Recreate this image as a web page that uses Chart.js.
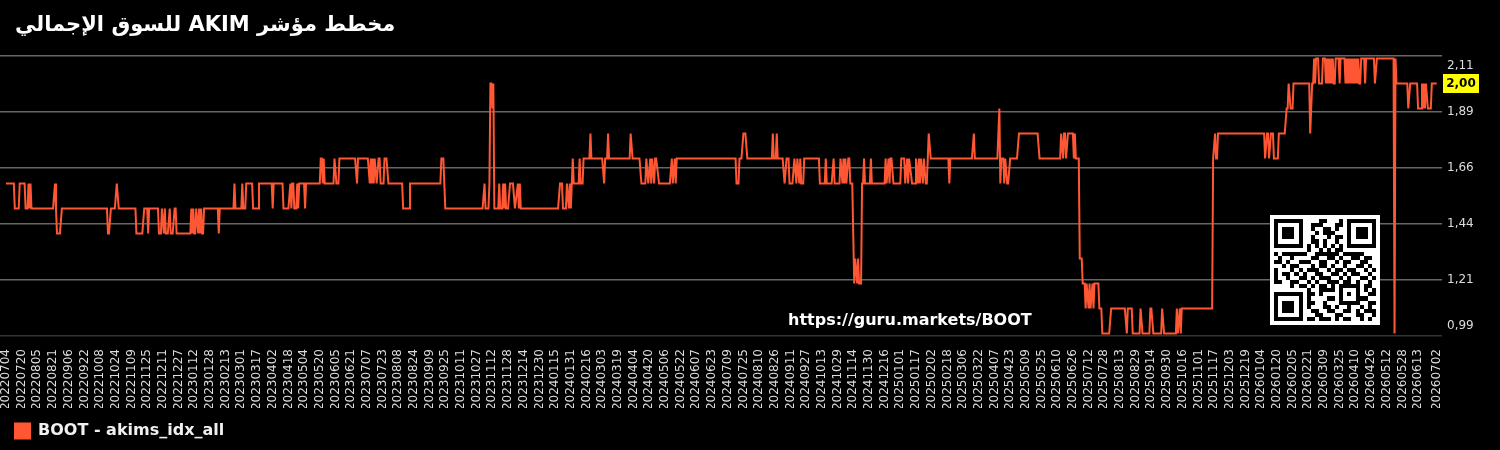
<!DOCTYPE html>
<html>
<head>
<meta charset="utf-8">
<title>AKIM</title>
<script src="https://cdn.jsdelivr.net/npm/chart.js@4"></script>
<style>
  html, body { margin: 0; padding: 0; background: #000; }
  canvas { display: block; }
</style>
</head>
<body>
<canvas id="akimChart" width="1500" height="450"></canvas>
<script>
const chartTitle = 'مخطط مؤشر AKIM للسوق الإجمالي';
const seriesName = 'BOOT - akims_idx_all';
const siteUrl = 'https://guru.markets/BOOT';

const dateLabels = [
  '20220704', '20220720', '20220805', '20220821', '20220906', '20220922', '20221008', '20221024',
  '20221109', '20221125', '20221211', '20221227', '20230112', '20230128', '20230213', '20230301',
  '20230317', '20230402', '20230418', '20230504', '20230520', '20230605', '20230621', '20230707',
  '20230723', '20230808', '20230824', '20230909', '20230925', '20231011', '20231027', '20231112',
  '20231128', '20231214', '20231230', '20240115', '20240131', '20240216', '20240303', '20240319',
  '20240404', '20240420', '20240506', '20240522', '20240607', '20240623', '20240709', '20240725',
  '20240810', '20240826', '20240911', '20240927', '20241013', '20241029', '20241114', '20241130',
  '20241216', '20250101', '20250117', '20250202', '20250218', '20250306', '20250322', '20250407',
  '20250423', '20250509', '20250525', '20250610', '20250626', '20250712', '20250728', '20250813',
  '20250829', '20250914', '20250930', '20251016', '20251101', '20251117', '20251203', '20251219',
  '20260104', '20260120', '20260205', '20260221', '20260309', '20260325', '20260410', '20260426',
  '20260512', '20260528', '20260613', '20260702'
];

const priceTicks = [2.11, 1.886, 1.662, 1.438, 1.214, 0.99];

// [days since first date, index value]
const points2022 = [
  [0, 1.6], [8, 1.6], [9, 1.5], [13, 1.5], [14, 1.6], [19, 1.6], [20, 1.5], [22, 1.5], [23, 1.6], [24, 1.5],
  [25, 1.6], [26, 1.5], [48, 1.5], [50, 1.6], [51, 1.5], [52, 1.4], [55, 1.4], [57, 1.5], [103, 1.5], [104, 1.4],
  [105, 1.4], [107, 1.5], [111, 1.5], [113, 1.6], [115, 1.5], [132, 1.5], [133, 1.4], [139, 1.4], [141, 1.5], [144, 1.5],
  [145, 1.4], [146, 1.5], [155, 1.5], [156, 1.4], [158, 1.4], [159, 1.5], [161, 1.4], [162, 1.5], [163, 1.4], [165, 1.4],
  [167, 1.5], [168, 1.4], [170, 1.4], [172, 1.5], [173, 1.5], [174, 1.4]
];

const points2023 = [
  [188, 1.4], [189, 1.5], [190, 1.4], [191, 1.5], [192, 1.4], [193, 1.4], [194, 1.5], [196, 1.4], [197, 1.5], [198, 1.4],
  [199, 1.5], [200, 1.4], [201, 1.4], [202, 1.5], [216, 1.5], [217, 1.4], [218, 1.5], [232, 1.5], [233, 1.6], [234, 1.5],
  [240, 1.5], [241, 1.6], [242, 1.5], [244, 1.5], [245, 1.6], [251, 1.6], [252, 1.5], [257, 1.5], [258, 1.6], [271, 1.6],
  [272, 1.5], [273, 1.6], [282, 1.6], [283, 1.5], [288, 1.5], [290, 1.6], [291, 1.5], [292, 1.6], [293, 1.6], [294, 1.5],
  [296, 1.5], [297, 1.6], [298, 1.5], [299, 1.6], [304, 1.6], [305, 1.5], [306, 1.6], [320, 1.6], [321, 1.7], [322, 1.7],
  [323, 1.6], [324, 1.7], [325, 1.6], [334, 1.6], [335, 1.7], [337, 1.6], [339, 1.6], [340, 1.7], [356, 1.7], [358, 1.6],
  [359, 1.7], [369, 1.7], [371, 1.6], [372, 1.7], [373, 1.6], [374, 1.7], [375, 1.6], [376, 1.7], [378, 1.6], [380, 1.7],
  [381, 1.7], [382, 1.6], [385, 1.6], [386, 1.7], [388, 1.7], [390, 1.6], [404, 1.6], [405, 1.5], [411, 1.5], [412, 1.6],
  [443, 1.6], [444, 1.7], [446, 1.7], [448, 1.5], [486, 1.5], [488, 1.6], [489, 1.5], [492, 1.5], [493, 1.6], [494, 2.0],
  [495, 2.0], [496, 1.9], [497, 2.0], [498, 1.5], [502, 1.5], [503, 1.6], [504, 1.5], [506, 1.5], [507, 1.6], [508, 1.5],
  [509, 1.6], [510, 1.5], [512, 1.5], [514, 1.6], [517, 1.6], [519, 1.5], [522, 1.6], [523, 1.5], [524, 1.6], [525, 1.5]
];

const points2024 = [
  [563, 1.5], [565, 1.6], [567, 1.6], [568, 1.5], [571, 1.5], [572, 1.6], [574, 1.5], [575, 1.6], [576, 1.5], [577, 1.6],
  [578, 1.7], [579, 1.6], [584, 1.6], [585, 1.7], [586, 1.6], [588, 1.6], [589, 1.7], [595, 1.7], [596, 1.8], [597, 1.7],
  [608, 1.7], [610, 1.6], [611, 1.7], [613, 1.7], [614, 1.8], [615, 1.7], [636, 1.7], [637, 1.8], [639, 1.7], [646, 1.7],
  [648, 1.6], [652, 1.6], [653, 1.7], [655, 1.6], [657, 1.7], [658, 1.6], [659, 1.7], [661, 1.6], [662, 1.7], [663, 1.7],
  [666, 1.6], [677, 1.6], [679, 1.7], [680, 1.6], [682, 1.7], [683, 1.6], [684, 1.7], [686, 1.7], [744, 1.7], [745, 1.6],
  [747, 1.6], [748, 1.7], [750, 1.7], [752, 1.8], [754, 1.8], [756, 1.7], [781, 1.7], [782, 1.8], [783, 1.7], [785, 1.7],
  [786, 1.8], [787, 1.7], [792, 1.7], [794, 1.6], [796, 1.7], [798, 1.7], [799, 1.6], [802, 1.6], [804, 1.7], [806, 1.6],
  [807, 1.7], [809, 1.6], [810, 1.7], [811, 1.6], [813, 1.6], [814, 1.7], [829, 1.7], [830, 1.6], [835, 1.6], [836, 1.7],
  [837, 1.6], [842, 1.6], [844, 1.7], [845, 1.6], [850, 1.6], [851, 1.7], [853, 1.6], [854, 1.7], [855, 1.6], [856, 1.7],
  [857, 1.6], [859, 1.7], [860, 1.7], [861, 1.6], [863, 1.6], [865, 1.2], [866, 1.3], [868, 1.2], [869, 1.3], [870, 1.2],
  [872, 1.2], [873, 1.6], [874, 1.6], [875, 1.7], [876, 1.6], [881, 1.6], [882, 1.7], [883, 1.6], [896, 1.6], [897, 1.7],
  [898, 1.6], [900, 1.7], [901, 1.6], [902, 1.7], [903, 1.7], [905, 1.6]
];

const points2025 = [
  [912, 1.6], [913, 1.7], [916, 1.7], [917, 1.6], [919, 1.7], [920, 1.6], [921, 1.7], [924, 1.6], [927, 1.6], [928, 1.7],
  [930, 1.6], [931, 1.7], [932, 1.6], [933, 1.7], [935, 1.6], [936, 1.7], [938, 1.6], [939, 1.6], [940, 1.7], [941, 1.8],
  [943, 1.7], [961, 1.7], [962, 1.6], [963, 1.7], [985, 1.7], [987, 1.8], [988, 1.7], [1011, 1.7], [1013, 1.9], [1014, 1.6],
  [1015, 1.7], [1017, 1.7], [1018, 1.6], [1019, 1.7], [1021, 1.6], [1022, 1.6], [1024, 1.7], [1031, 1.7], [1033, 1.8], [1052, 1.8],
  [1054, 1.7], [1075, 1.7], [1076, 1.8], [1078, 1.7], [1079, 1.8], [1080, 1.8], [1081, 1.7], [1083, 1.8], [1088, 1.8], [1089, 1.7],
  [1090, 1.8], [1091, 1.7], [1094, 1.7], [1095, 1.3], [1097, 1.3], [1098, 1.2], [1100, 1.2], [1101, 1.1], [1102, 1.2], [1104, 1.1],
  [1105, 1.2], [1106, 1.1], [1108, 1.2], [1109, 1.1], [1110, 1.2], [1114, 1.2], [1115, 1.1], [1117, 1.1], [1118, 1.0], [1125, 1.0],
  [1127, 1.1], [1141, 1.1], [1143, 1.0], [1144, 1.1], [1148, 1.1], [1149, 1.0], [1156, 1.0], [1157, 1.1], [1159, 1.0], [1166, 1.0],
  [1167, 1.1], [1168, 1.1], [1170, 1.0], [1178, 1.0], [1179, 1.1], [1181, 1.0], [1193, 1.0], [1194, 1.1], [1195, 1.0], [1197, 1.1],
  [1198, 1.0], [1199, 1.1], [1200, 1.1], [1230, 1.1], [1231, 1.7], [1233, 1.8], [1234, 1.7], [1235, 1.7], [1236, 1.8]
];

const points2026 = [
  [1283, 1.8], [1284, 1.7], [1286, 1.8], [1287, 1.8], [1288, 1.7], [1290, 1.8], [1292, 1.8], [1293, 1.7], [1297, 1.7], [1298, 1.8],
  [1304, 1.8], [1306, 1.9], [1307, 1.9], [1308, 2.0], [1310, 1.9], [1312, 1.9], [1313, 2.0], [1329, 2.0], [1330, 1.8], [1332, 2.0],
  [1333, 2.0], [1334, 2.1], [1335, 2.0], [1336, 2.1], [1338, 2.1], [1339, 2.0], [1342, 2.0], [1343, 2.1], [1345, 2.1], [1346, 2.0],
  [1347, 2.1], [1348, 2.0], [1349, 2.1], [1350, 2.0], [1351, 2.1], [1352, 2.0], [1353, 2.1], [1354, 2.0], [1355, 2.0], [1356, 2.1],
  [1359, 2.1], [1360, 2.0], [1361, 2.1], [1365, 2.1], [1366, 2.0], [1367, 2.1], [1368, 2.0], [1369, 2.1], [1370, 2.0], [1371, 2.1],
  [1372, 2.0], [1373, 2.1], [1374, 2.0], [1375, 2.1], [1376, 2.0], [1377, 2.1], [1378, 2.0], [1379, 2.1], [1380, 2.0], [1381, 2.0],
  [1382, 2.1], [1385, 2.1], [1386, 2.0], [1387, 2.1], [1395, 2.1], [1396, 2.0], [1398, 2.1], [1415, 2.1], [1416, 1.0], [1417, 2.1],
  [1418, 2.0], [1429, 2.0], [1430, 1.9], [1432, 2.0], [1439, 2.0], [1440, 1.9], [1443, 1.9], [1444, 2.0], [1445, 1.9], [1446, 2.0],
  [1447, 1.9], [1448, 2.0], [1450, 1.9], [1453, 1.9], [1454, 2.0], [1459, 2.0]
];

// QR code pointing at the site, one string per module row
const qrRows = [
  '1111111000011000101111111', '1000001001110001101000001', '1011101001001101001011101',
  '1011101000101110001011101', '1011101001000101101011101', '1000001001101001001000001',
  '1111111010101010101111111', '0000000010010101100000000', '1011111100111111011111000',
  '0100100001100110100110110', '1101001110011001011001100', '0010110001011010010011010',
  '1000101011100101101100101', '1011010100110011010110010', '1001001101011100101001101',
  '1100110010100111011010010', '0000101101011010111110110', '0000000010011110100010101',
  '1111111011010000101010011', '1000001010000110100011100', '1011101011001000111110011',
  '1011101010001101001001010', '1011101001100110011010111', '1000001000110001100011001',
  '1111111011011101011001010'
];

const allPoints = [...points2022, ...points2023, ...points2024, ...points2025, ...points2026];
const days = allPoints.map(p => p[0]);
const values = allPoints.map(p => p[1]);

const lineColor = '#FF5733';
const fontFamily = "'DejaVu Sans', sans-serif";

function dayOf(label) {
  const t = Date.UTC(+label.slice(0, 4), +label.slice(4, 6) - 1, +label.slice(6, 8));
  const start = Date.UTC(2022, 6, 4);
  return Math.round((t - start) / 86400000);
}
const tickDays = dateLabels.map(dayOf);

// title, watermark url, QR block and the yellow last-value tag
const overlayPlugin = {
  id: 'overlay',
  afterDraw(chart) {
    const ctx = chart.ctx;
    ctx.save();

    ctx.direction = 'rtl';
    ctx.textAlign = 'left';
    ctx.textBaseline = 'middle';
    ctx.fillStyle = '#fff';
    ctx.font = 'bold 21px ' + fontFamily;
    ctx.fillText(chartTitle, 15, 26);
    ctx.direction = 'ltr';

    ctx.font = 'bold 16px ' + fontFamily;
    ctx.fillText(siteUrl, 788, 321);

    ctx.fillStyle = '#fff';
    ctx.fillRect(1270, 215, 110, 110);
    ctx.fillStyle = '#000';
    const m = 110 / 27;
    qrRows.forEach((row, r) => {
      for (let c = 0; c < row.length; c++) {
        if (row[c] === '1') {
          const x0 = Math.round(1270 + (c + 1) * m), y0 = Math.round(215 + (r + 1) * m);
          const x1 = Math.round(1270 + (c + 2) * m), y1 = Math.round(215 + (r + 2) * m);
          ctx.fillRect(x0, y0, x1 - x0, y1 - y0);
        }
      }
    });

    const last = values[values.length - 1];
    const y = chart.scales.y.getPixelForValue(last);
    ctx.fillStyle = '#ffff00';
    ctx.fillRect(1443, y - 9.5, 36, 19);
    ctx.fillStyle = '#000';
    ctx.textAlign = 'center';
    ctx.font = 'bold 12px ' + fontFamily;
    ctx.fillText(last.toFixed(2).replace('.', ','), 1461, y + 0.5);

    ctx.restore();
  }
};

new Chart(document.getElementById('akimChart'), {
  type: 'line',
  plugins: [overlayPlugin],
  data: {
    datasets: [{
      label: seriesName,
      data: days.map((d, i) => ({ x: d, y: values[i] })),
      borderColor: lineColor,
      backgroundColor: lineColor,
      borderWidth: 2,
      pointRadius: 0,
      tension: 0,
      clip: false
    }]
  },
  options: {
    responsive: false,
    animation: false,
    devicePixelRatio: 1,
    layout: { autoPadding: false, padding: { top: 56, left: 0, right: 0, bottom: 1 } },
    plugins: {
      title: { display: false },
      tooltip: { enabled: false },
      legend: {
        position: 'bottom',
        align: 'start',
        labels: {
          boxWidth: 15,
          boxHeight: 15,
          padding: 15,
          color: '#f0f0f0',
          font: { family: fontFamily, size: 16, weight: 'bold' }
        }
      }
    },
    scales: {
      x: {
        type: 'linear',
        min: -6.1,
        max: 1464.4,
        grid: { display: false },
        border: { display: false },
        afterBuildTicks: scale => { scale.ticks = tickDays.map(v => ({ value: v })); },
        afterFit: scale => { scale.height = 72; },
        ticks: {
          autoSkip: false,
          minRotation: 90,
          maxRotation: 90,
          padding: 5,
          color: '#dddddd',
          font: { family: fontFamily, size: 12 },
          callback: value => dateLabels[tickDays.indexOf(value)]
        }
      },
      y: {
        position: 'right',
        min: 0.99,
        max: 2.11,
        border: { display: false },
        grid: {
          drawTicks: false,
          lineWidth: 1.5,
          color: ctx => (ctx.index === priceTicks.length - 1 ? '#333333' : '#666666')
        },
        afterBuildTicks: scale => { scale.ticks = priceTicks.map(v => ({ value: v })); },
        afterFit: scale => { scale.width = 58; },
        ticks: {
          padding: 5,
          color: '#dddddd',
          // the two outer labels sit inside the axis range, pushed by an empty line
          font: ctx => ({
            family: fontFamily,
            size: 12,
            lineHeight: (ctx.index === 0 || ctx.index === priceTicks.length - 1) ? 20 / 12 : 1.2
          }),
          callback: (value, i) => {
            const text = value.toFixed(2).replace('.', ',');
            if (i === 0) return ['', text];
            if (i === priceTicks.length - 1) return [text, ''];
            return text;
          }
        }
      }
    }
  }
});
</script>
</body>
</html>
